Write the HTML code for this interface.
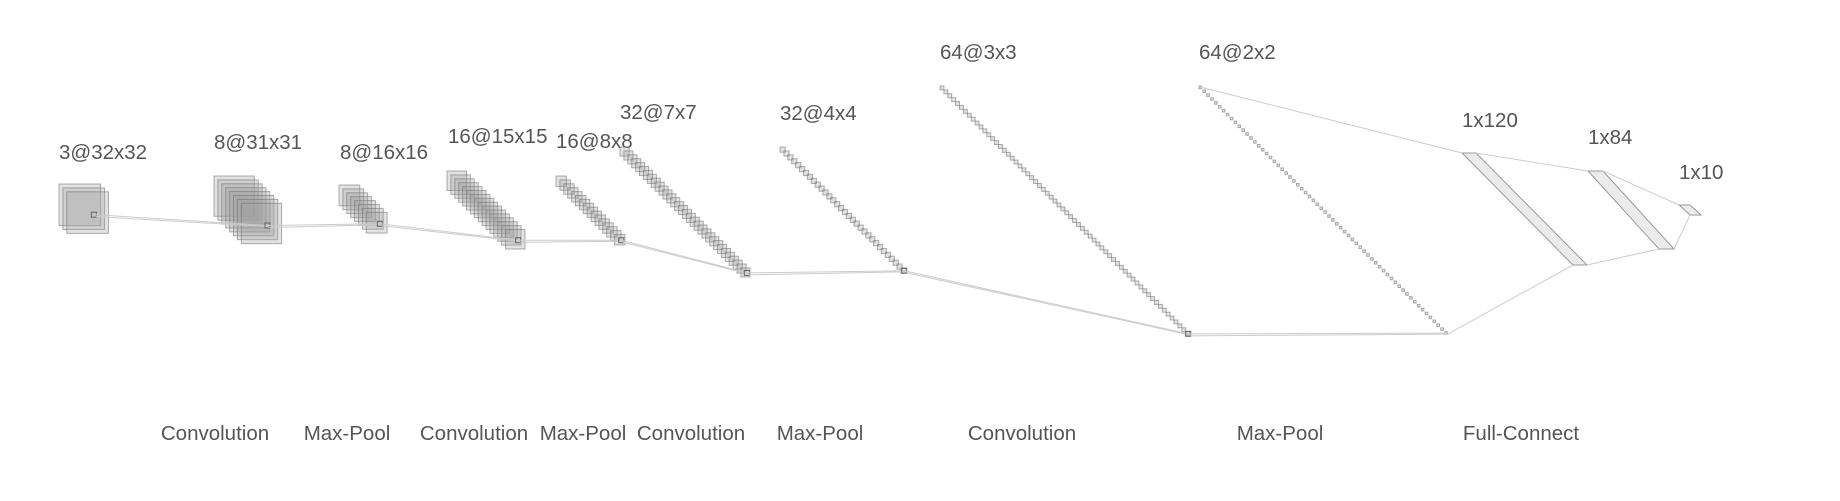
<!DOCTYPE html>
<html><head><meta charset="utf-8"><style>
html,body{margin:0;padding:0;background:#fff;}
svg{display:block;}
text{font-family:"Liberation Sans",sans-serif;font-size:20.5px;fill:#555;}
</style></head><body>
<svg id="net" width="1840" height="501" viewBox="0 0 1840 501"></svg>
<script>
const layerLabels = ["3@32x32","8@31x31","8@16x16","16@15x15","16@8x8","32@7x7","32@4x4","64@3x3","64@2x2"];
const layerChannels = [3,8,8,16,16,32,32,64,64];
const layerSizes = [32,31,16,15,8,7,4,3,2];
const denseLabels = ["1x120","1x84","1x10"];
const denseUnits = [120,84,10];
const opLabels = ["Convolution","Max-Pool","Convolution","Max-Pool","Convolution","Max-Pool","Convolution","Max-Pool","Full-Connect"];

// layout
const layerX = [59,214,339,447,556,620,780,940,1199];
const layerY = [184,176,185,171,176,147,147,86,86];
const labelPos = [[59,159],[214,149],[340,159],[448,143],[556,148],[620,119],[780,120],[940,59],[1199,59]];
const denseTop = [[1462,153],[1588,171],[1679,205]];
const denseW = [14,15,11];
const denseLabelPos = [[1462,127],[1588,144],[1679,179]];
const opX = [215,347,474,583,691,820,1022,1280,1521];
const STEP = 3.9, PX = 1.3;

const svg = document.getElementById('net');
const NS = 'http://www.w3.org/2000/svg';
function mk(tag, attrs){const e=document.createElementNS(NS,tag);for(const k in attrs)e.setAttribute(k,attrs[k]);svg.appendChild(e);return e;}

const lastPts = [];
layerChannels.forEach((c,li)=>{
  const s = layerSizes[li]*PX;
  for(let i=0;i<c;i++){
    const r = mk('rect',{x:layerX[li]+i*STEP,y:layerY[li]+i*STEP,width:s,height:s,fill:'rgba(160,160,160,0.3)',stroke:'rgba(110,110,110,0.55)','stroke-width':1});
    
    
  }
  const lx = layerX[li]+(c-1)*STEP, ly = layerY[li]+(c-1)*STEP;
  lastPts.push([lx+s*0.65, ly+s*0.55, lx, ly+s, lx+s, ly+s]);
  const t = mk('text',{x:labelPos[li][0],y:labelPos[li][1]});
  t.textContent = layerLabels[li];
  
  
});

// kernel connections
for(let li=0;li<layerChannels.length-1;li++){
  const a = lastPts[li], b = lastPts[li+1];
  const k = mk('rect',{x:a[0]-2.5,y:a[1]-2.5,width:5,height:5,fill:'none',stroke:'#666','stroke-width':1});
  
  
  [[a[0],a[1]],[a[0]+2,a[1]+2]].forEach((p,j)=>{
    const l = mk('line',{x1:p[0],y1:p[1],x2:b[0]+j,y2:b[1]+j,stroke:'#ccc','stroke-width':1});
    
    
  });
}

// dense layers
const denseGeom = denseUnits.map((u,i)=>{
  const [x,y] = denseTop[i];
  return {x,y,w:denseW[i],dx:u*0.9,dy:u*0.92};
});
denseGeom[0].dx=111; denseGeom[0].dy=112;
denseGeom[1].dx=71;  denseGeom[1].dy=78;
denseGeom[2].dx=11;  denseGeom[2].dy=10;
denseGeom.forEach((g,i)=>{
  const p = mk('polygon',{points:`${g.x},${g.y} ${g.x+g.w},${g.y} ${g.x+g.w+g.dx},${g.y+g.dy} ${g.x+g.dx},${g.y+g.dy}`,fill:'rgba(215,215,215,0.5)',stroke:'#999','stroke-width':1});
  
  
  const t = mk('text',{x:denseLabelPos[i][0],y:denseLabelPos[i][1]});
  t.textContent = denseLabels[i];
  
  
});
const L9 = layerChannels.length-1;
const topPrev = [layerX[L9]+1, layerY[L9]+1];
const botPrev = [lastPts[L9][4], lastPts[L9][5]];
const conn = [[topPrev,[denseGeom[0].x,denseGeom[0].y]],[botPrev,[denseGeom[0].x+denseGeom[0].dx,denseGeom[0].y+denseGeom[0].dy]]];
for(let i=0;i<2;i++){
  const a=denseGeom[i], b=denseGeom[i+1];
  conn.push([[a.x+a.w,a.y],[b.x,b.y]]);
  conn.push([[a.x+a.dx+a.w,a.y+a.dy],[b.x+b.dx,b.y+b.dy]]);
}
conn.forEach((c,i)=>{
  const l = mk('line',{x1:c[0][0],y1:c[0][1],x2:c[1][0],y2:c[1][1],stroke:'#ccc','stroke-width':1});
  
  
});

opLabels.forEach((o,i)=>{
  const t = mk('text',{x:opX[i],y:440,'text-anchor':'middle'});
  t.textContent = o;
  
  
});
</script>
</body></html>
